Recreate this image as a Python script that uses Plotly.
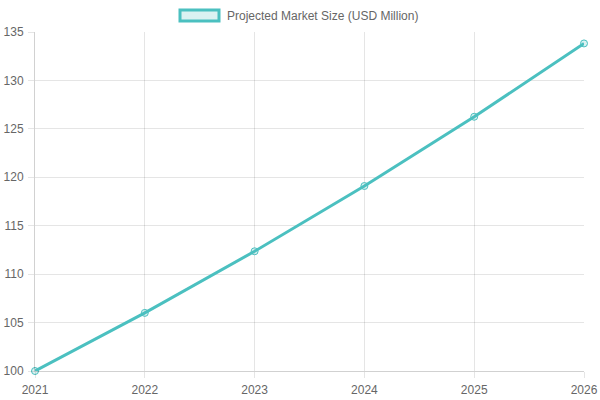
import plotly.graph_objects as go

years = [2021, 2022, 2023, 2024, 2025, 2026]
market_size = [100, 106, 112.36, 119.1, 126.25, 133.82]
series_name = "Projected Market Size (USD Million)"

teal = "rgb(75,192,192)"
teal_fill = "rgba(75,192,192,0.2)"
grid = "rgba(0,0,0,0.1)"
font = dict(family="Liberation Sans, Arial, sans-serif", size=12, color="#666")

fig = go.Figure()
fig.add_trace(go.Scatter(
    x=years, y=market_size, mode="lines+markers", name=series_name,
    line=dict(color=teal, width=3),
    marker=dict(size=7, color=teal_fill, line=dict(color=teal, width=1)),
    showlegend=False, cliponaxis=False,
))

fig.update_layout(
    width=600, height=400,
    margin=dict(l=35, r=16, t=32, b=29, autoexpand=False),
    paper_bgcolor="white", plot_bgcolor="white",
    font=font, showlegend=False,
    xaxis=dict(
        range=[2021, 2026], tickvals=years, ticktext=[str(y) for y in years],
        showgrid=True, gridcolor=grid, gridwidth=1,
        ticks="outside", ticklen=6, tickcolor=grid, ticklabelstandoff=2,
        showline=True, linecolor="rgba(0,0,0,0.18)", linewidth=1,
        zeroline=False, fixedrange=True, automargin=False,
    ),
    yaxis=dict(
        range=[100, 135], dtick=5,
        showgrid=True, gridcolor=grid, gridwidth=1,
        ticks="outside", ticklen=6, tickcolor=grid, ticklabelstandoff=2,
        showline=True, linecolor="rgba(0,0,0,0.18)", linewidth=1,
        zeroline=False, fixedrange=True, automargin=False,
    ),
    shapes=[dict(
        type="rect", xref="paper", yref="paper",
        x0=(180 - 35) / 549, x1=(219 - 35) / 549,
        y0=(371 - 21) / 339, y1=(371 - 10) / 339,
        fillcolor=teal_fill, line=dict(color=teal, width=3),
    )],
    annotations=[dict(
        text=series_name, xref="paper", yref="paper",
        x=(225 - 35) / 549, y=(371 - 15.5) / 339,
        xanchor="left", yanchor="middle", showarrow=False, font=font,
    )],
)

fig.write_html("out.html")
